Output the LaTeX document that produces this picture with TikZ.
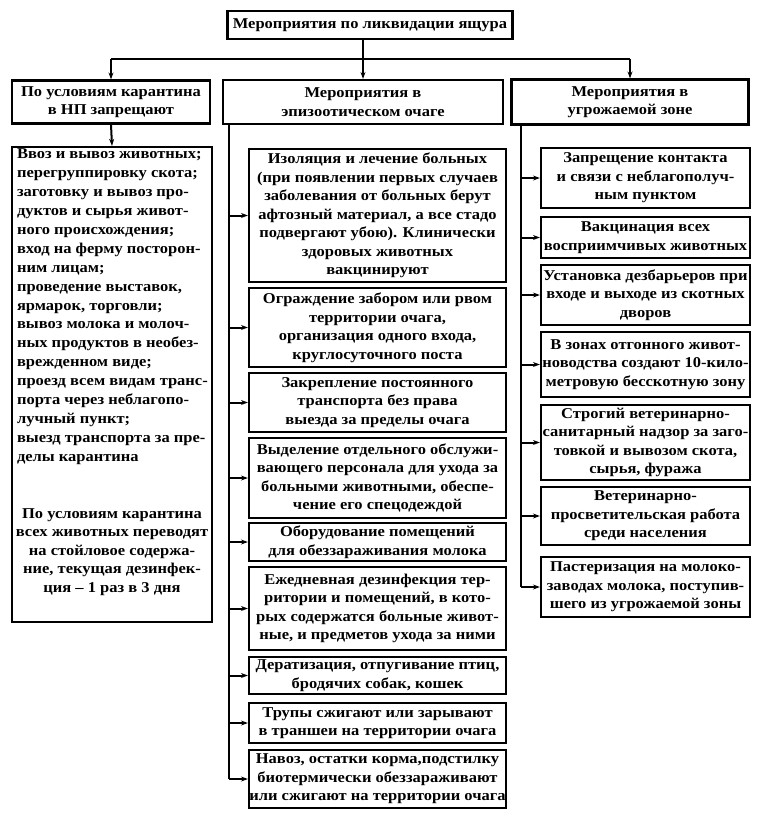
\documentclass[tikz,border=0pt]{standalone}
\usepackage{fontspec}
\setmainfont{Liberation Serif}[FakeStretch=1.1]
\usetikzlibrary{arrows.meta}

\begin{document}
\begin{tikzpicture}[x=1pt, y=-1pt, line width=2pt,
    font=\fontsize{15}{18.5}\selectfont\bfseries]
    \useasboundingbox (0,0) rectangle (758,820);

    \begin{scope}[every node/.style={draw, line width=2.2pt, align=center, inner sep=0pt}]
        \node[minimum width=285, minimum height=28] (top) at (370,25) {Мероприятия по ликвидации ящура};
        \node[minimum width=198, minimum height=43] (h1) at (111,102) {По условиям карантина\\в НП запрещают};
        \node[minimum width=280, minimum height=44] (h2) at (363,102) {Мероприятия в\\эпизоотическом очаге};
        \node[minimum width=237, minimum height=45] (h3) at (630,102) {Мероприятия в\\угрожаемой зоне};
        \node[minimum width=200, minimum height=475] (l1) at (112,384.5) {};
    \end{scope}

    % text of the left column
    \node[anchor=north west, align=left, inner sep=0pt, font=\fontsize{15}{18.9}\selectfont\bfseries] (l1a) at (16,148) {Ввоз и вывоз животных;\\перегруппировку скота;\\заготовку и вывоз про-\\дуктов и сырья живот-\\ного происхождения;\\вход на ферму посторон-\\ним лицам;\\проведение выставок,\\ярмарок, торговли;\\вывоз молока и молоч-\\ных продуктов в необез-\\врежденном виде;\\проезд всем видам транс-\\порта через неблагопо-\\лучный пункт;\\выезд транспорта за пре-\\делы карантина};
    \node[align=center, inner sep=0pt] (l1b) at (112,552) {По условиям карантина\\всех животных переводят\\на стойловое содержа-\\ние, текущая дезинфек-\\ция -- 1 раз в 3 дня};

    \begin{scope}[every node/.style={draw, line width=2.2pt, align=center, inner sep=0pt, minimum width=257}]
        \node[minimum height=133] (m1) at (377.5,215.5) {Изоляция и лечение больных\\(при появлении первых случаев\\заболевания от больных берут\\афтозный материал, а все стадо\\подвергают убою). Клинически\\здоровых животных\\вакцинируют};
        \node[minimum height=79] (m2) at (377.5,327.5) {Ограждение забором или рвом\\территории очага,\\организация одного входа,\\круглосуточного поста};
        \node[minimum height=59] (m3) at (377.5,402.5) {Закрепление постоянного\\транспорта без права\\выезда за пределы очага};
        \node[minimum height=80] (m4) at (377.5,478) {Выделение отдельного обслужи-\\вающего персонала для ухода за\\больными животными, обеспе-\\чение его спецодеждой};
        \node[minimum height=38] (m5) at (377.5,542) {Оборудование помещений\\для обеззараживания молока};
        \node[minimum height=83] (m6) at (377.5,608.5) {Ежедневная дезинфекция тер-\\ритории и помещений, в кото-\\рых содержатся больные живот-\\ные, и предметов ухода за ними};
        \node[minimum height=37] (m7) at (377.5,675.5) {Дератизация, отпугивание птиц,\\бродячих собак, кошек};
        \node[minimum height=40] (m8) at (377.5,723) {Трупы сжигают или зарывают\\в траншеи на территории очага};
        \node[minimum height=58] (m9) at (377.5,779) {Навоз, остатки корма,подстилку\\биотермически обеззараживают\\или сжигают на территории очага};
    \end{scope}

    \begin{scope}[every node/.style={draw, line width=2.2pt, align=center, inner sep=0pt, minimum width=209}]
        \node[minimum height=60] (r1) at (645.5,178) {Запрещение контакта\\и связи с неблагополуч-\\ным пунктом};
        \node[minimum height=41] (r2) at (645.5,237.5) {Вакцинация всех\\восприимчивых животных};
        \node[minimum height=60] (r3) at (645.5,295) {Установка дезбарьеров при\\входе и выходе из скотных\\дворов};
        \node[minimum height=65] (r4) at (645.5,364.5) {В зонах отгонного живот-\\новодства создают 10-кило-\\метровую бесскотную зону};
        \node[minimum height=75] (r5) at (645.5,442.5) {Строгий ветеринарно-\\санитарный надзор за заго-\\товкой и вывозом скота,\\сырья, фуража};
        \node[minimum height=58] (r6) at (645.5,516) {Ветеринарно-\\просветительская работа\\среди населения};
        \node[minimum height=60] (r7) at (645.5,587) {Пастеризация на молоко-\\заводах молока, поступив-\\шего из угрожаемой зоны};
    \end{scope}

    \coordinate (split) at (363,59);
    \coordinate (mt) at (229,124);
    \coordinate (rt) at (521,124);

    \begin{scope}[every edge/.style={draw, line width=2pt}, >={Stealth[length=7pt, width=5pt]}]
        \path [->] (top.south -| h2) edge (h2.north);
        \path [-] (split -| h1) edge (split -| h3);
        \path [->] (split -| h1) edge (h1.north);
        \path [->] (split -| h3) edge (h3.north);
        \path [->] (h1.south) edge (l1.north);
        % episootic focus
        \path [-] (mt) edge (mt |- m9);
        \foreach \n in {1,...,9}
            \path [->] (mt |- m\n) edge (m\n.west);
        % threatened zone
        \path [-] (rt) edge (rt |- r7);
        \foreach \n in {1,...,7}
            \path [->] (rt |- r\n) edge (r\n.west);
    \end{scope}
\end{tikzpicture}
\end{document}
